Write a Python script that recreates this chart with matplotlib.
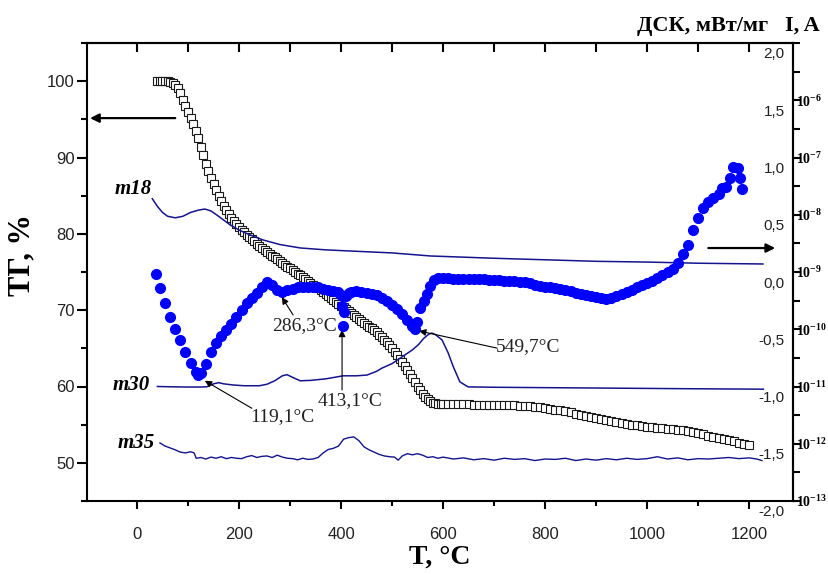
import numpy as np
import matplotlib
matplotlib.use('Agg')
import matplotlib.pyplot as plt
from matplotlib.ticker import FixedLocator, FuncFormatter, NullFormatter, MultipleLocator
from matplotlib.transforms import ScaledTranslation

plt.rcParams['font.family'] = ['Liberation Sans', 'DejaVu Sans']
plt.rcParams['mathtext.fontset'] = 'custom'
plt.rcParams['mathtext.rm'] = 'Liberation Serif'
plt.rcParams['mathtext.bf'] = 'Liberation Serif:bold'
plt.rcParams['mathtext.it'] = 'Liberation Serif:italic'

# ---------------- data ----------------
# TG curve (%), squares
tg_T = np.concatenate([np.arange(40, 601, 5), np.arange(610, 1201, 10)])
tg_val = [
    100.0, 100.0, 100.0, 100.0, 100.0, 99.95, 99.8, 99.5, 99.1, 98.4,
    97.5, 96.8, 96.0, 95.2, 94.4, 93.5, 92.5, 91.4, 90.3, 89.2,
    88.2, 87.3, 86.5, 85.7, 85.0, 84.3, 83.7, 83.1, 82.6, 82.1,
    81.7, 81.3, 80.9, 80.55, 80.2, 79.9, 79.6, 79.3, 79.0, 78.7,
    78.4, 78.15, 77.9, 77.65, 77.4, 77.15, 76.9, 76.65, 76.4, 76.15,
    75.9, 75.7, 75.5, 75.25, 75.0, 74.8, 74.6, 74.35, 74.1, 73.85,
    73.6, 73.35, 73.1, 72.85, 72.6, 72.35, 72.1, 71.85, 71.6, 71.35,
    71.1, 70.85, 70.6, 70.35, 70.1, 69.85, 69.6, 69.35, 69.1, 68.85,
    68.6, 68.35, 68.1, 67.85, 67.6, 67.35, 67.1, 66.8, 66.5, 66.15,
    65.8, 65.4, 65.0, 64.55, 64.1, 63.65, 63.2, 62.7, 62.2, 61.65,
    61.1, 60.55, 60.0, 59.5, 59.0, 58.6, 58.3, 58.05, 57.9, 57.8,
    57.75, 57.72, 57.7,
    57.68, 57.67, 57.66, 57.65, 57.65, 57.64, 57.63, 57.62, 57.61, 57.6,
    57.6, 57.6, 57.58, 57.55, 57.5, 57.45, 57.4, 57.33, 57.26, 57.2,
    57.1, 56.98, 56.86, 56.73, 56.6, 56.45, 56.3, 56.15, 55.98, 55.82,
    55.7, 55.57, 55.45, 55.35, 55.2, 55.1, 55.0, 54.9, 54.8, 54.7,
    54.64, 54.58, 54.52, 54.46, 54.4, 54.33, 54.25, 54.15, 54.03, 53.9,
    53.75, 53.58, 53.4, 53.25, 53.1, 52.95, 52.8, 52.65, 52.5, 52.4,
]

# Current I (A), blue dots: temperatures and log10(I)
i_T = [37, 45, 55, 65, 75, 85, 95, 105, 115, 120, 125, 135, 145, 155, 165, 175,
       185, 195, 205, 215, 225, 235, 245, 255, 265, 275, 285, 295, 305, 315,
       325, 335, 345, 355, 365, 375, 385, 395, 400, 402, 404, 406, 410, 415,
       420, 430, 440, 450, 460, 470, 480, 490, 500, 510, 520, 530, 540, 545,
       549, 555, 562, 568, 575, 582, 590, 600, 610, 620, 630, 640, 650, 660,
       670, 680, 690, 700, 710, 720, 730, 740, 750, 760, 770, 780, 790, 800,
       810, 820, 830, 840, 850, 860, 870, 880, 890, 900, 910, 920, 930, 940,
       950, 960, 970, 980, 990, 1000, 1010, 1020, 1030, 1040, 1050, 1060,
       1070, 1080, 1090, 1100, 1110, 1120, 1130, 1140, 1147, 1155, 1163,
       1169, 1178, 1182, 1186]
i_log10 = [-9.03, -9.28, -9.55, -9.79, -9.99, -10.19, -10.40, -10.59, -10.74,
           -10.80, -10.77, -10.60, -10.40, -10.24, -10.11, -10.01, -9.90, -9.79,
           -9.67, -9.55, -9.46, -9.37, -9.27, -9.17, -9.22, -9.31, -9.35, -9.32,
           -9.29, -9.27, -9.26, -9.26, -9.26, -9.27, -9.29, -9.31, -9.33, -9.35,
           -9.40, -9.60, -9.94, -9.70, -9.42, -9.37, -9.35, -9.34, -9.35, -9.37,
           -9.38, -9.40, -9.45, -9.51, -9.57, -9.65, -9.74, -9.84, -9.95, -10.00,
           -9.88, -9.63, -9.50, -9.38, -9.24, -9.14, -9.10, -9.11, -9.11, -9.12,
           -9.12, -9.12, -9.13, -9.13, -9.13, -9.13, -9.14, -9.14, -9.14, -9.15,
           -9.15, -9.16, -9.17, -9.18, -9.20, -9.22, -9.24, -9.26, -9.27, -9.28,
           -9.30, -9.32, -9.34, -9.36, -9.38, -9.40, -9.42, -9.44, -9.46, -9.48,
           -9.46, -9.42, -9.39, -9.35, -9.31, -9.27, -9.23, -9.19, -9.15, -9.10,
           -9.05, -9.00, -8.94, -8.85, -8.68, -8.52, -8.27, -8.05, -7.88, -7.78,
           -7.70, -7.63, -7.53, -7.52, -7.36, -7.17, -7.18, -7.36, -7.55]
i_A = 10.0 ** np.array(i_log10)

# Mass-spec traces (plotted in left-axis units)
m18_T = [30, 40, 50, 60, 75, 90, 105, 120, 133, 145, 160, 182, 200, 220, 247,
         280, 320, 370, 418, 500, 575, 700, 800, 900, 1000, 1100, 1227]
m18_val = [84.6, 83.6, 82.8, 82.3, 82.1, 82.3, 82.8, 83.1, 83.25, 83.0, 82.3,
           81.2, 80.5, 79.9, 79.2, 78.6, 78.15, 77.9, 77.75, 77.5, 77.1, 76.8,
           76.6, 76.4, 76.3, 76.15, 76.05]

m30_T = [40, 60, 80, 100, 125, 137, 150, 160, 170, 188, 210, 240, 255, 270, 285,
         294, 305, 320, 340, 370, 404, 430, 451, 470, 480, 500, 520, 540, 552,
         562, 572, 578, 585, 598, 610, 620, 633, 649, 700, 800, 900, 1000, 1100,
         1228]
m30_val = [60.0, 59.97, 59.95, 59.93, 59.93, 59.97, 60.35, 60.5, 60.35, 60.2,
           60.1, 60.1, 60.3, 60.75, 61.4, 61.55, 61.2, 60.75, 60.8, 61.0, 61.4,
           61.4, 61.5, 62.0, 62.4, 63.0, 63.9, 64.8, 65.5, 66.3, 66.85, 67.0,
           66.8, 66.1, 64.4, 62.6, 60.6, 59.95, 59.9, 59.85, 59.8, 59.75, 59.7,
           59.65]

m35_T = [45, 55, 65, 75, 85, 95, 105, 112, 116, 125, 135, 145, 155, 165, 175,
         185, 195, 205, 215, 225, 235, 245, 255, 265, 275, 285, 295, 305, 315,
         325, 335, 345, 355, 365, 375, 385, 395, 405, 415, 425, 435, 445, 455,
         465, 475, 485, 495, 505, 512, 520, 530, 540, 550, 560, 570, 580, 590,
         600, 620, 640, 660, 680, 700, 720, 740, 760, 780, 800, 820, 840, 860,
         880, 900, 920, 940, 960, 980, 1000, 1020, 1040, 1060, 1080, 1100, 1120,
         1140, 1160, 1180, 1200, 1215, 1225]
m35_val = [52.6, 52.2, 51.95, 51.7, 51.4, 51.3, 51.45, 51.3, 50.6, 50.7, 50.5,
           50.75, 50.6, 50.8, 50.55, 50.7, 50.6, 50.55, 50.8, 50.95, 50.7, 50.85,
           50.9, 50.7, 51.0, 50.75, 50.6, 50.55, 50.4, 50.6, 50.45, 50.5, 50.7,
           51.3, 51.75, 51.9, 52.2, 53.1, 53.3, 53.4, 52.9, 52.1, 51.7, 51.4,
           51.1, 50.9, 50.8, 50.75, 50.35, 50.9, 51.2, 51.05, 51.2, 51.0, 50.7,
           50.8, 50.6, 50.75, 50.5, 50.65, 50.4, 50.55, 50.35, 50.6, 50.45,
           50.55, 50.3, 50.5, 50.45, 50.6, 50.3, 50.5, 50.35, 50.55, 50.4, 50.6,
           50.45, 50.55, 50.8, 50.5, 50.65, 50.4, 50.55, 50.5, 50.6, 50.7, 50.55,
           50.65, 50.5, 50.3]

x_major = [0, 200, 400, 600, 800, 1000, 1200]
tg_ticks = [50, 60, 70, 80, 90, 100]
dsc_ticks = [-2.0, -1.5, -1.0, -0.5, 0.0, 0.5, 1.0, 1.5, 2.0]
log_exps = [-13, -12, -11, -10, -9, -8, -7, -6, -5]

# ---------------- figure ----------------
fig = plt.figure(figsize=(8.29, 5.74), dpi=100)
ax = fig.add_axes([87 / 829, 1 - 501 / 574, 706 / 829, 458 / 574])

navy = '#14148c'
ax.plot(tg_T, tg_val, ls='none', marker='s', ms=6, mfc='white',
        mec='#1a1a1a', mew=0.8, zorder=2)
ax.plot(m18_T, m18_val, color=navy, lw=1.1, zorder=3)
ax.plot(m30_T, m30_val, color=navy, lw=1.1, zorder=3)
ax.plot(m35_T, m35_val, color=navy, lw=1.0, zorder=3)

ax.set_xlim(-98, 1286)
ax.set_ylim(45, 105)
ax.xaxis.set_major_locator(FixedLocator(x_major))
ax.xaxis.set_minor_locator(MultipleLocator(100))
ax.yaxis.set_major_locator(FixedLocator(tg_ticks))
ax.yaxis.set_minor_locator(MultipleLocator(5))
ax.tick_params(axis='both', which='major', direction='out', width=1.5,
               labelsize=12, colors='black')
ax.tick_params(axis='y', which='major', length=7, pad=2)
ax.tick_params(axis='y', which='minor', length=4.5, width=1.5, direction='out')
ax.tick_params(axis='x', which='major', length=6, pad=13)
ax.tick_params(axis='x', which='minor', length=3.5, width=1.5, direction='out')
for lab in ax.get_yticklabels() + ax.get_xticklabels():
    lab.set_color('#222222')
for s in ax.spines.values():
    s.set_linewidth(1.5)

top = ax.secondary_xaxis('top')
top.xaxis.set_major_locator(MultipleLocator(100))
top.tick_params(axis='x', which='major', direction='in', length=6.5,
                width=1.5, labeltop=False)
top.spines['top'].set_linewidth(1.5)

ax.set_xlabel('T, °C', family='Liberation Serif', fontweight='bold',
              fontsize=20, labelpad=2)
ax.set_ylabel('ТГ, %', family='Liberation Serif', fontweight='bold',
              fontsize=22)
ax.yaxis.set_label_coords(-0.071, 0.537)

# DSC axis (labels inside the frame)
ax2 = ax.twinx()
ax2.set_ylim(-2, 2)
ax2.yaxis.set_major_locator(FixedLocator(dsc_ticks))
ax2.yaxis.set_major_formatter(FuncFormatter(lambda v, p: f'{v:.1f}'.replace('.', ',')))
ax2.tick_params(axis='y', which='both', length=0, pad=-6, labelsize=11)
for s in ax2.spines.values():
    s.set_visible(False)

# Current axis (log)
ax3 = ax.twinx()
ax3.set_yscale('log')
ax3.set_ylim(1e-13, 1e-5)
ax3.plot(i_T, i_A, ls='-', lw=0, marker='o', ms=7, color='#0000ff',
         mec='#0000ff', zorder=5)
ax3.yaxis.set_major_locator(FixedLocator([10.0 ** e for e in log_exps]))
ax3.yaxis.set_minor_locator(FixedLocator([10.0 ** (e + 0.5) for e in log_exps[:-1]]))
ax3.yaxis.set_minor_formatter(NullFormatter())


def logfmt(v, p):
    e = int(round(np.log10(v)))
    if e == -5:
        return ''
    return r'$\mathbf{10^{%d}}$' % e


ax3.yaxis.set_major_formatter(FuncFormatter(logfmt))
ax3.tick_params(axis='y', which='major', direction='out', length=5, width=1.5,
                pad=-3, labelsize=10)
ax3.tick_params(axis='y', which='minor', direction='out', length=5, width=1.5)
for k, s in ax3.spines.items():
    s.set_visible(k == 'right')
    s.set_linewidth(1.5)

# axis titles on the right
fig.text(637 / 829, 1 - 26 / 574, 'ДСК, мВт/мг', family='Liberation Serif',
         fontweight='bold', fontsize=16, ha='left', va='center')
fig.text(785 / 829, 1 - 26 / 574, 'I, A', family='Liberation Serif',
         fontweight='bold', fontsize=16, ha='left', va='center')

# trace labels
lab_kw = dict(family='Liberation Serif', fontweight='bold', style='italic',
              fontsize=15, ha='left', va='center')
ax.text(-43, 85.9, 'm18', **lab_kw)
ax.text(-47, 60.2, 'm30', **lab_kw)
ax.text(-39, 52.6, 'm35', **lab_kw)

# axis pointer arrows
big = dict(arrowstyle='-|>', color='black', lw=1.6, mutation_scale=13,
           shrinkA=0, shrinkB=0)
ax.annotate('', xy=(-92, 95.16), xytext=(75, 95.16), arrowprops=big)
ax.annotate('', xy=(1251, 78.14), xytext=(1120, 78.14), arrowprops=big)

# peak annotations (in current-axis coords)
thin = dict(arrowstyle='-|>', color='black', lw=0.8, mutation_scale=10,
            shrinkA=0, shrinkB=0)
ann_kw = dict(family='Liberation Serif', fontsize=14, ha='center', va='center',
              color='#222222')
ax3.annotate('', xy=(133, 10 ** -10.9), xytext=(225, 10 ** -11.38), arrowprops=thin)
ax3.text(284, 10 ** -11.52, '119,1°C', **ann_kw)
ax3.annotate('', xy=(284, 10 ** -9.44), xytext=(306, 10 ** -9.75), arrowprops=thin)
ax3.text(329, 10 ** -9.93, '286,3°C', **ann_kw)
ax3.annotate('', xy=(402, 10 ** -10.01), xytext=(402, 10 ** -11.06), arrowprops=thin)
ax3.text(418, 10 ** -11.24, '413,1°C', **ann_kw)
ax3.annotate('', xy=(553, 10 ** -10.03), xytext=(706, 10 ** -10.33), arrowprops=thin)
ax3.text(767, 10 ** -10.31, '549,7°C', **ann_kw)

# DSC labels: right-aligned inside the frame, shifted slightly down
offset = ScaledTranslation(0, -10 / 100, fig.dpi_scale_trans)
for t in ax2.yaxis.get_major_ticks():
    t.label2.set_horizontalalignment('right')
    t.label2.set_color('#222222')
    t.label2.set_transform(t.label2.get_transform() + offset)

fig.savefig('out.png', dpi=100)
